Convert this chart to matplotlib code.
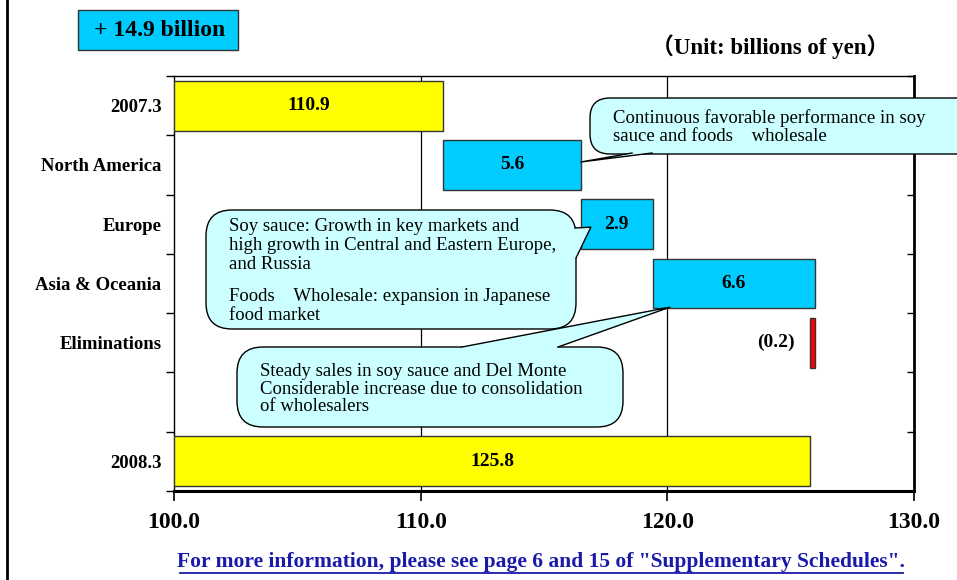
import numpy as np
import matplotlib.pyplot as plt
from matplotlib.patches import FancyBboxPatch, Polygon, Rectangle
from matplotlib.lines import Line2D

# data (billions of yen)
categories = ['2007.3', 'North America', 'Europe', 'Asia & Oceania', 'Eliminations', '', '2008.3']
start_val = 110.9
changes = [5.6, 2.9, 6.6, -0.2]
change_labels = ['5.6', '2.9', '6.6', '(0.2)']
end_val = 125.8
xticks = [100.0, 110.0, 120.0, 130.0]

YELLOW = '#FFFF00'
CYAN = '#00CCFF'
RED = '#FF0000'
NOTE = '#CCFFFF'
SERIF = 'Liberation Serif'
FAM = [SERIF, 'Noto Sans CJK JP']

W, H = 957, 580
fig = plt.figure(figsize=(W / 100, H / 100), dpi=100)
fig.patch.set_facecolor('white')

# main axes placed in pixel terms
ax = fig.add_axes([174 / W, (H - 491) / H, (914 - 174) / W, (491 - 76) / H])
ax.set_xlim(100, 130)
ax.set_ylim(6.5, -0.5)

bh = 0.84
lab_kw = dict(fontsize=14, fontweight='bold', family=SERIF, va='center', zorder=4)
# totals
ax.barh(0, start_val - 100, left=100, height=bh, color=YELLOW, edgecolor='#333333', lw=1, zorder=3)
ax.barh(6, end_val - 100, left=100, height=bh, color=YELLOW, edgecolor='#333333', lw=1, zorder=3)
ax.text((100 + start_val) / 2, 0, f'{start_val:.1f}', ha='center', **lab_kw)
ax.text((100 + end_val) / 2, 6, f'{end_val:.1f}', ha='center', **lab_kw)

# steps
cum = start_val
for i, (c, lab) in enumerate(zip(changes, change_labels)):
    row = i + 1
    left = cum if c > 0 else cum + c
    col = CYAN if c > 0 else RED
    ax.barh(row, abs(c), left=left, height=bh, color=col, edgecolor='#333333', lw=1, zorder=3)
    if c > 0:
        ax.text(left + c / 2, row, lab, ha='center', **lab_kw)
    else:
        ax.text(left - 0.65, row, lab, ha='right', **lab_kw)
    cum += c

# grid
for gx in xticks[1:-1]:
    ax.axvline(gx, color='black', lw=0.9, zorder=1)

ax.set_xticks(xticks)
ax.set_xticklabels([f'{v:.1f}' for v in xticks], fontsize=17, fontweight='bold', family=SERIF)
ax.tick_params(axis='x', direction='out', length=7, width=1.2, pad=8)
ax.set_yticks(range(len(categories)))
ax.set_yticklabels(categories, fontsize=13.5, fontweight='bold', family=SERIF)
ax.set_yticks(np.arange(-0.5, 7, 1), minor=True)
ax.tick_params(axis='y', which='major', length=0, pad=9)
ax.tick_params(axis='y', which='minor', direction='out', length=6, width=1)
ax.spines['left'].set_linewidth(1)
ax.spines['top'].set_linewidth(1)
ax.spines['right'].set_linewidth(2)
ax.spines['bottom'].set_linewidth(2.2)

# inward ticks on the right side
ax2 = ax.twinx()
ax2.set_ylim(ax.get_ylim())
ax2.set_yticks(np.arange(-0.5, 7, 1))
ax2.set_yticklabels([])
ax2.tick_params(axis='y', direction='in', length=5, width=1)
for s in ax2.spines.values():
    s.set_visible(False)

# overlay in pixel coordinates for notes
ov = fig.add_axes([0, 0, 1, 1], zorder=5)
ov.set_xlim(0, W)
ov.set_ylim(H, 0)
ov.axis('off')
ov.patch.set_alpha(0)


def to_px(x, y):
    dx, dy = ax.transData.transform((x, y))
    return dx, H - dy


def callout(x0, y0, x1, y1, b1, b2, tip, r=20):
    box = FancyBboxPatch((x0, y0), x1 - x0, y1 - y0,
                         boxstyle=f'round,pad=0,rounding_size={r}',
                         fc=NOTE, ec='black', lw=1, clip_on=False, zorder=2)
    ov.add_patch(box)
    cx, cy = (x0 + x1) / 2, (y0 + y1) / 2
    # pull base points slightly inside to hide the box edge
    i1 = (b1[0] + (cx - b1[0]) * 0.03, b1[1] + (cy - b1[1]) * 0.08)
    i2 = (b2[0] + (cx - b2[0]) * 0.03, b2[1] + (cy - b2[1]) * 0.08)
    ov.add_patch(Polygon([i1, b1, tip, b2, i2], closed=True, fc=NOTE, ec='none',
                         clip_on=False, zorder=3))
    ov.add_line(Line2D([b1[0], tip[0], b2[0]], [b1[1], tip[1], b2[1]],
                       color='black', lw=1, zorder=4))


note_kw = dict(fontsize=13.5, family=FAM, va='top', ha='left', zorder=6)

# North America note
callout(590, 98, 985, 154, (632, 153), (652, 153), to_px(start_val + changes[0], 0.95))
ov.text(613, 109, 'Continuous favorable performance in soy\nsauce and foods\u3000wholesale',
        linespacing=1.12, **note_kw)

# Europe note
callout(206, 210, 576, 329, (575, 228), (576, 258),
        to_px(start_val + changes[0] + 0.4, 2.05), r=26)
ov.text(229, 218, 'Soy sauce: Growth in key markets and\nhigh growth in Central and Eastern Europe,\nand Russia',
        linespacing=1.17, **note_kw)
ov.text(229, 288, 'Foods\u3000Wholesale: expansion in Japanese\nfood market', linespacing=1.17, **note_kw)

# Asia & Oceania note
callout(237, 347, 623, 427, (462, 347), (558, 347),
        to_px(start_val + changes[0] + changes[1] + 0.7, 3.4), r=26)
ov.text(260, 363, 'Steady sales in soy sauce and Del Monte\nConsiderable increase due to consolidation\nof wholesalers',
        linespacing=1.05, **note_kw)

# headline box
ov.add_patch(Rectangle((78, 10), 160, 40, fc=CYAN, ec='#333333', lw=1, zorder=2))
ov.text(160, 31, '+ 14.9 billion', ha='center', va='center', fontsize=17,
        fontweight='bold', family=SERIF, zorder=6)

ov.text(770, 47, '（Unit: billions of yen）', ha='center', va='center', fontsize=16.5,
        fontweight='bold', family=FAM, zorder=6)

# link
ov.text(541, 562, 'For more information, please see page 6 and 15 of "Supplementary Schedules".',
        ha='center', va='center', fontsize=15.5, fontweight='bold', family=SERIF,
        color='#1A1AAA', zorder=6)
ov.add_line(Line2D([180, 903], [573, 573], color='#1A1AAA', lw=1.3))

# slide border on the left
ov.add_line(Line2D([7, 7], [0, H], color='black', lw=2))

fig.savefig('out.png', dpi=100)
